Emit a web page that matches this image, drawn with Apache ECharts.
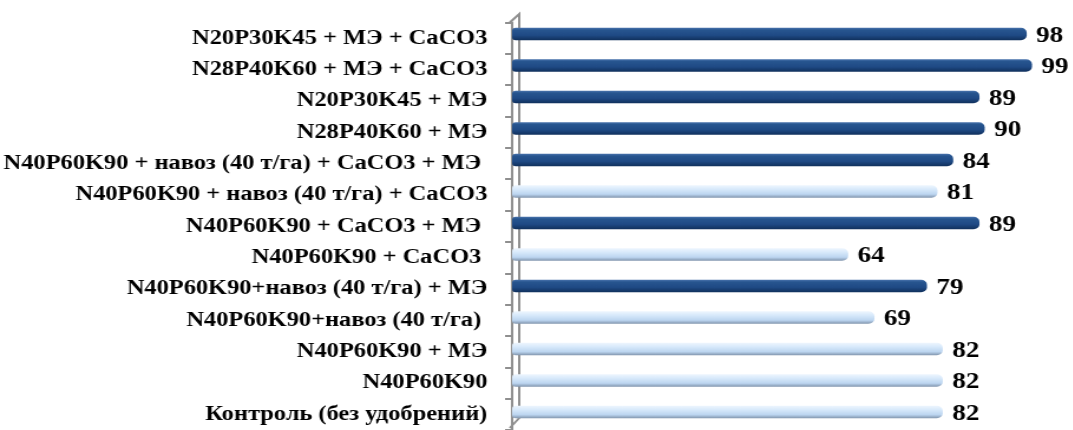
<!DOCTYPE html>
<html>
<head>
<meta charset="utf-8">
<script src="https://cdn.jsdelivr.net/npm/echarts@6/dist/echarts.min.js"></script>
<style>
  html, body { margin: 0; padding: 0; background: #ffffff; overflow: hidden; }
  #wrap { width: 1073px; height: 430px; overflow: hidden; }
  /* the chart is laid out narrower and widened horizontally */
  #chart { width: 909px; height: 430px; transform: scaleX(1.18); transform-origin: 0 0; }
</style>
</head>
<body>
<div id="wrap"><div id="chart"></div></div>
<script>
// Treatments, top to bottom
const categories = [
  'N20P30K45 + МЭ + CaCO3',
  'N28P40K60 + МЭ + CaCO3',
  'N20P30K45 + МЭ',
  'N28P40K60 + МЭ',
  'N40P60K90 + навоз (40 т/га) + CaCO3 + МЭ ',
  'N40P60K90 + навоз (40 т/га) + CaCO3',
  'N40P60K90 + CaCO3 + МЭ ',
  'N40P60K90 + CaCO3 ',
  'N40P60K90+навоз (40 т/га) + МЭ',
  'N40P60K90+навоз (40 т/га) ',
  'N40P60K90 + МЭ',
  'N40P60K90',
  'Контроль (без удобрений)'
];
const values = [98, 99, 89, 90, 84, 81, 89, 64, 79, 69, 82, 82, 82];
// 1 = dark bar, 0 = light bar
const highlighted = [1, 1, 1, 1, 1, 0, 1, 0, 1, 0, 0, 0, 0];

const serif = "'Liberation Serif', 'Times New Roman', Times, serif";
const wallColor = '#8f8f8f';

const darkFill = new echarts.graphic.LinearGradient(0, 0, 0, 1, [
  { offset: 0, color: '#4a74ad' },
  { offset: 0.18, color: '#27558f' },
  { offset: 0.6, color: '#1f4a85' },
  { offset: 1, color: '#10305c' }
]);
const lightFill = new echarts.graphic.LinearGradient(0, 0, 0, 1, [
  { offset: 0, color: '#eef6fe' },
  { offset: 0.3, color: '#d9eafb' },
  { offset: 0.72, color: '#bcd5f0' },
  { offset: 1, color: '#8195ad' }
]);

const GRID_LEFT = 434;

const chart = echarts.init(document.getElementById('chart'), null, { renderer: 'canvas' });
chart.setOption({
  animation: false,
  grid: [
    // plotting area for the bars
    { left: GRID_LEFT, top: 18.25, width: 445, height: 409.5, containLabel: false },
    // front edge of the axis wall, carrying the category labels
    { left: GRID_LEFT, top: 22.5, width: 445, height: 409, containLabel: false }
  ],
  xAxis: [
    { gridIndex: 0, type: 'value', min: 0, max: 100, show: false },
    { gridIndex: 1, type: 'value', min: 0, max: 100, show: false }
  ],
  yAxis: [
    {
      gridIndex: 0,
      type: 'category',
      inverse: true,
      data: categories,
      axisLine: { show: false },
      axisTick: { show: false },
      axisLabel: { show: false }
    },
    {
      gridIndex: 1,
      type: 'category',
      inverse: true,
      data: categories,
      offset: 2,
      axisLine: { show: true, lineStyle: { color: wallColor, width: 2 } },
      axisTick: { show: true, length: 6, lineStyle: { color: wallColor, width: 2 } },
      axisLabel: {
        margin: 19,
        color: '#000000',
        fontFamily: serif,
        fontWeight: 'bold',
        fontSize: 20.7
      }
    }
  ],
  graphic: [{
    // back edge of the axis wall with its top and floor corners
    type: 'polyline',
    z: 0,
    silent: true,
    shape: { points: [[GRID_LEFT - 2, 22.5], [GRID_LEFT + 6, 14], [GRID_LEFT + 6, 418], [GRID_LEFT - 2, 428]] },
    style: { stroke: wallColor, lineWidth: 2, fill: null }
  }],
  series: [{
    type: 'bar',
    xAxisIndex: 0,
    yAxisIndex: 0,
    z: 3,
    barWidth: 12.5,
    data: values.map((v, i) => ({
      value: v,
      itemStyle: {
        color: highlighted[i] ? darkFill : lightFill,
        borderRadius: [3, 5, 5, 3]
      }
    })),
    label: {
      show: true,
      position: 'right',
      distance: 8,
      offset: [0, 2],
      color: '#000000',
      fontFamily: serif,
      fontWeight: 'bold',
      fontSize: 23
    }
  }]
});
</script>
</body>
</html>
